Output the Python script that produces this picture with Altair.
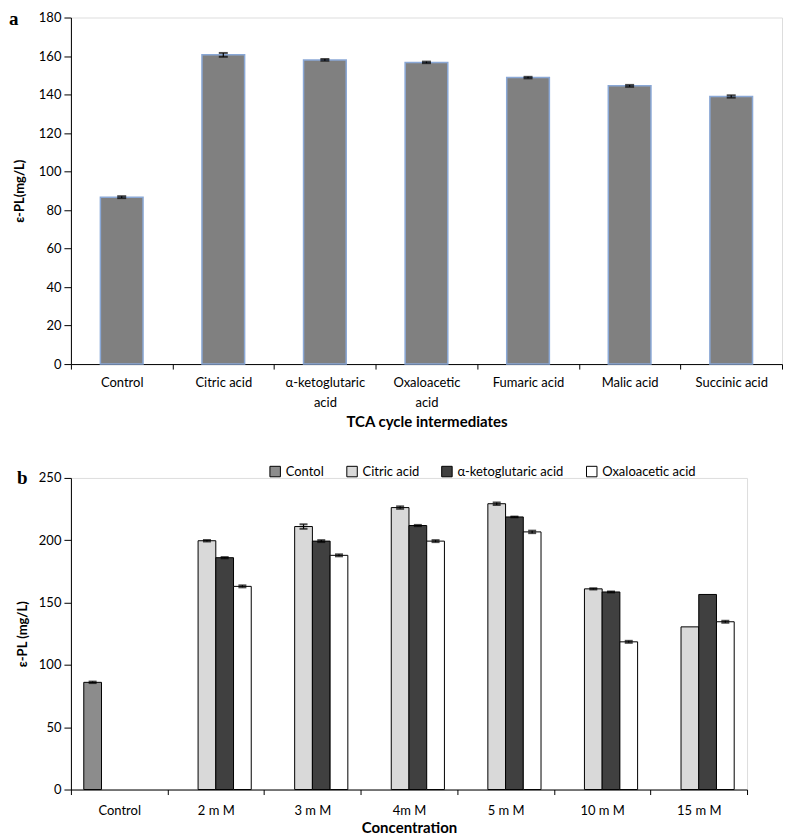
import altair as alt
import pandas as pd

# ---------------- Panel a data ----------------
cats_a = ["Control", "Citric acid", "α-ketoglutaric acid", "Oxaloacetic acid",
          "Fumaric acid", "Malic acid", "Succinic acid"]
vals_a = [86.7, 160.6, 158.0, 156.7, 148.8, 144.5, 139.0]
errs_a = [0.5, 1.0, 0.4, 0.4, 0.4, 0.5, 0.6]
yticks_a = [0, 20, 40, 60, 80, 100, 120, 140, 160, 180]

# ---------------- Panel b data ----------------
conc = ["Control", "2 m M", "3 m M", "4m M", "5 m M", "10 m M", "15 m M"]
series = ["Contol", "Citric acid", "α-ketoglutaric acid", "Oxaloacetic acid"]
series_colors = ["#8c8c8c", "#d9d9d9", "#404040", "#ffffff"]
control_val = [86.0]
control_err = [0.6]
citric = [199.6, 211.0, 226.2, 229.3, 161.0, 130.5]
citric_err = [0.6, 1.8, 1.0, 1.0, 0.5, 0.0]
akg = [186.0, 199.3, 211.8, 218.7, 158.5, 156.5]
akg_err = [0.5, 0.8, 0.5, 0.3, 0.4, 0.0]
oxalo = [163.0, 187.9, 199.3, 206.7, 118.5, 134.6]
oxalo_err = [0.8, 0.8, 0.8, 1.0, 0.8, 0.8]
yticks_b = [0, 50, 100, 150, 200, 250]

FONT = "Lato"

df_a = pd.DataFrame({"cat": cats_a, "val": vals_a, "err": errs_a})
df_a["lo"] = df_a["val"] - df_a["err"]
df_a["hi"] = df_a["val"] + df_a["err"]

rows = [{"conc": conc[0], "series": series[0], "val": control_val[0], "err": control_err[0]}]
for i, c in enumerate(conc[1:]):
    rows.append({"conc": c, "series": series[1], "val": citric[i], "err": citric_err[i]})
    rows.append({"conc": c, "series": series[2], "val": akg[i], "err": akg_err[i]})
    rows.append({"conc": c, "series": series[3], "val": oxalo[i], "err": oxalo_err[i]})
df_b = pd.DataFrame(rows)
df_b["lo"] = df_b["val"] - df_b["err"]
df_b["hi"] = df_b["val"] + df_b["err"]
df_b_err = df_b[df_b["err"] > 0]

# ---------------- Panel a ----------------
label_expr_a = ("datum.value == 'α-ketoglutaric acid' ? ['α-ketoglutaric', 'acid'] : "
                "datum.value == 'Oxaloacetic acid' ? ['Oxaloacetic', 'acid'] : datum.label")

x_a = alt.X("cat:N", sort=cats_a,
            scale=alt.Scale(paddingInner=0, paddingOuter=0),
            axis=alt.Axis(title="TCA cycle intermediates", tickBand="extent", labelAngle=0,
                          labelExpr=label_expr_a, labelLineHeight=20, labelPadding=13,
                          labelFontSize=13, labelFont=FONT, labelColor="#000",
                          labelOverlap=False, labelBaseline="middle",
                          titleFont=FONT, titleFontSize=15, titleFontWeight="bold",
                          titlePadding=6, titleColor="#000",
                          domainColor="#000", tickColor="#000", tickSize=5))
yscale_a = alt.Scale(domain=[0, 180], nice=False)
yaxis_a = alt.Axis(title="ε-PL(mg/L)", values=yticks_a, grid=False, tickCount=10,
                   labelFontSize=13, labelFont=FONT, labelColor="#000", labelPadding=3,
                   labelOverlap=False, labelFlush=False,
                   titleFont=FONT, titleFontSize=13, titleFontWeight="bold",
                   titleColor="#000", titlePadding=12,
                   domainColor="#000", tickColor="#000", tickSize=7)

bars_a = alt.Chart(df_a).mark_bar(width=alt.RelativeBandSize(0.42), color="#808080",
                                  stroke="#8aa8d6", strokeWidth=1.5).encode(
    x=x_a, y=alt.Y("val:Q", scale=yscale_a, axis=yaxis_a))
rule_a = alt.Chart(df_a).mark_rule(color="#000", strokeWidth=1.2).encode(
    x=x_a, y=alt.Y("lo:Q", scale=yscale_a, axis=yaxis_a), y2="hi:Q")
caplo_a = alt.Chart(df_a).mark_tick(color="#000", thickness=2, size=9).encode(
    x=x_a, y=alt.Y("lo:Q", scale=yscale_a, axis=yaxis_a))
caphi_a = alt.Chart(df_a).mark_tick(color="#000", thickness=2, size=9).encode(
    x=x_a, y=alt.Y("hi:Q", scale=yscale_a, axis=yaxis_a))
lab_a = alt.Chart(pd.DataFrame({"t": ["a"]})).mark_text(
    font="Liberation Serif", fontWeight="bold", fontSize=19, align="left", baseline="middle",
    color="#000").encode(x=alt.value(-62), y=alt.value(1), text="t:N")

panel_a = alt.layer(bars_a, rule_a, caplo_a, caphi_a, lab_a).properties(width=712, height=347)

# ---------------- Panel b ----------------
x_b = alt.X("conc:N", sort=conc,
            scale=alt.Scale(paddingInner=0, paddingOuter=0),
            axis=alt.Axis(title="Concentration", tickBand="extent", labelAngle=0,
                          labelPadding=10, labelFontSize=13, labelFont=FONT, labelColor="#000",
                          labelOverlap=False,
                          titleFont=FONT, titleFontSize=15, titleFontWeight="bold",
                          titlePadding=3, titleColor="#000",
                          domainColor="#000", tickColor="#000", tickSize=5))
yscale_b = alt.Scale(domain=[0, 250], nice=False)
yaxis_b = alt.Axis(title="ε-PL (mg/L)", values=yticks_b, grid=False,
                   labelFontSize=13, labelFont=FONT, labelColor="#000", labelPadding=3,
                   labelOverlap=False, labelFlush=False,
                   titleFont=FONT, titleFontSize=13, titleFontWeight="bold",
                   titleColor="#000", titlePadding=9,
                   domainColor="#000", tickColor="#000", tickSize=7)
xo = alt.XOffset("series:N", sort=series,
                 scale=alt.Scale(domain=series, paddingOuter=0.725, paddingInner=0))
color_b = alt.Color("series:N", sort=series,
                    scale=alt.Scale(domain=series, range=series_colors),
                    legend=alt.Legend(title=None, orient="none", direction="horizontal",
                                      columns=4, legendX=198, legendY=-13,
                                      symbolType="square", symbolSize=110,
                                      symbolStrokeColor="#000", symbolStrokeWidth=1,
                                      labelFont=FONT, labelFontSize=13, labelColor="#000",
                                      columnPadding=20, labelOffset=4))

bars_b = alt.Chart(df_b).mark_bar(stroke="#000", strokeWidth=1).encode(
    x=x_b, xOffset=xo, y=alt.Y("val:Q", scale=yscale_b, axis=yaxis_b), color=color_b)
rule_b = alt.Chart(df_b_err).mark_rule(color="#000", strokeWidth=1.2).encode(
    x=x_b, xOffset=xo, y=alt.Y("lo:Q", scale=yscale_b, axis=yaxis_b), y2="hi:Q")
caplo_b = alt.Chart(df_b_err).mark_tick(color="#000", thickness=2, size=8).encode(
    x=x_b, xOffset=xo, y=alt.Y("lo:Q", scale=yscale_b, axis=yaxis_b))
caphi_b = alt.Chart(df_b_err).mark_tick(color="#000", thickness=2, size=8).encode(
    x=x_b, xOffset=xo, y=alt.Y("hi:Q", scale=yscale_b, axis=yaxis_b))
lab_b = alt.Chart(pd.DataFrame({"t": ["b"]})).mark_text(
    font="Liberation Serif", fontWeight="bold", fontSize=19, align="left", baseline="middle",
    color="#000").encode(x=alt.value(-54), y=alt.value(0), text="t:N")

panel_b = alt.layer(bars_b, rule_b, caplo_b, caphi_b, lab_b).properties(width=677, height=312)

chart = alt.concat(panel_a, panel_b, columns=1, spacing=33, align="none").resolve_scale(
    color="independent").resolve_legend(color="independent").properties(
    padding={"left": 0, "top": 0, "right": 0, "bottom": 0}
).configure_view(stroke=None).configure(font=FONT)

chart.save("out.html", embed_options={"renderer": "svg", "actions": False})
